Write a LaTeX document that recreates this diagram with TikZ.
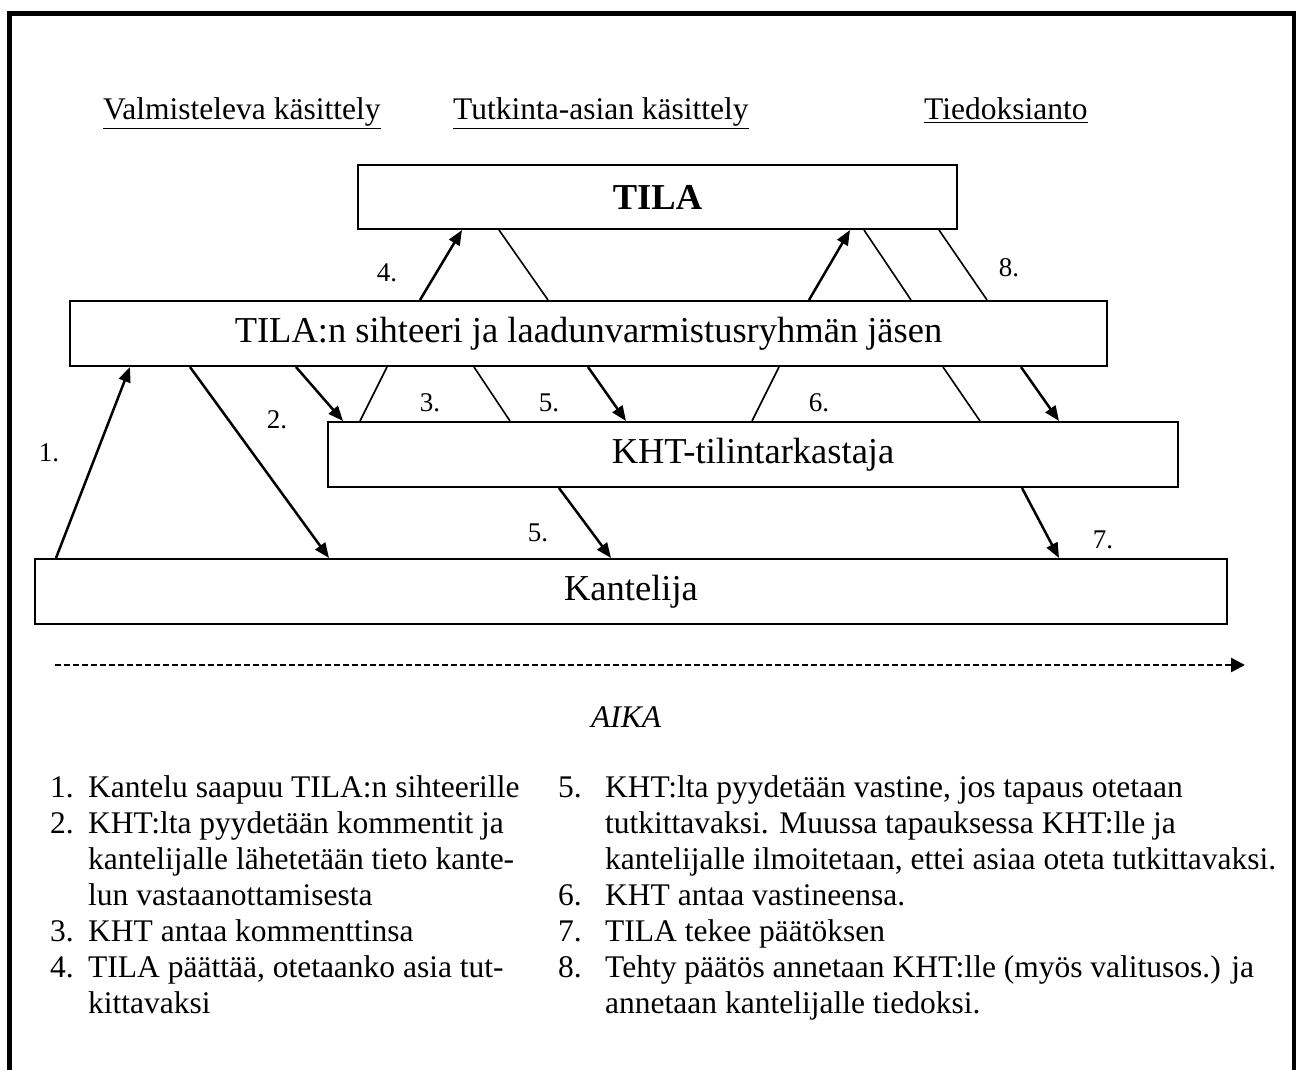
\documentclass[tikz,border=0pt]{standalone}
\usepackage{fontspec}
\setmainfont{Liberation Serif}
\usetikzlibrary{arrows.meta,calc}
\begin{document}
\begin{tikzpicture}[x=1pt,y=-1pt,
  box/.style={draw, line width=2pt, minimum height=64pt, inner sep=0pt, font=\fontsize{36.5}{40}\selectfont},
  lbl/.style={font=\fontsize{27}{30}\selectfont, inner sep=0pt},
  arr/.style={line width=2.5pt, -{Triangle[length=15pt,width=12pt]}},
  ln/.style={line width=1.6pt},
  txt/.style={font=\fontsize{31.5}{36}\selectfont, inner sep=0pt, anchor=base west},
  hdr/.style={font=\fontsize{31.5}{36}\selectfont, inner sep=0pt, anchor=base west}]
\useasboundingbox (0,0) rectangle (1296,1070);
% outer frame
\draw[line width=5pt] (9.5,1110) -- (9.5,13.5) -- (1294,13.5) -- (1294,1110);
% headers
\node[hdr] (h1) at (103,120) {\underline{Valmisteleva käsittely}};
\node[hdr] (h2) at (453,120) {\underline{Tutkinta-asian käsittely}};
\node[hdr] (h3) at (924,120) {\underline{Tiedoksianto}};
% boxes
\node[box, minimum width=599pt] (tila) at (657.5,197) {\textbf{TILA}};
\node[box, minimum width=1037pt, minimum height=65pt] (siht) at (588.5,333.5) {TILA:n sihteeri ja laadunvarmistusryhmän jäsen};
\node[box, minimum width=850pt, minimum height=65pt] (kht) at (753,454.5) {KHT-tilintarkastaja};
\node[box, minimum width=1192pt, minimum height=65pt] (kant) at (631,591.5) {Kantelija};
% connectors
\draw[arr] (56,0 |- kant.north) -- (130,0 |- siht.south);
\draw[arr] (190,0 |- siht.south) -- (329,0 |- kant.north);
\draw[arr] (296,0 |- siht.south) -- (343,0 |- kht.north);
\draw[ln] (360,0 |- kht.north) -- (387,0 |- siht.south);
\draw[ln] (474,0 |- siht.south) -- (510,0 |- kht.north);
\draw[arr] (588,0 |- siht.south) -- (626,0 |- kht.north);
\draw[arr] (559,0 |- kht.south) -- (611,0 |- kant.north);
\draw[ln] (779,0 |- siht.south) -- (752,0 |- kht.north);
\draw[ln] (943,0 |- siht.south) -- (980,0 |- kht.north);
\draw[arr] (1021,0 |- siht.south) -- (1059,0 |- kht.north);
\draw[arr] (1022,0 |- kht.south) -- (1059,0 |- kant.north);
\draw[arr] (420,0 |- siht.north) -- (462,0 |- tila.south);
\draw[ln] (499,0 |- tila.south) -- (548,0 |- siht.north);
\draw[arr] (809,0 |- siht.north) -- (850,0 |- tila.south);
\draw[ln] (864,0 |- tila.south) -- (911,0 |- siht.north);
\draw[ln] (939,0 |- tila.south) -- (987,0 |- siht.north);
% labels
\node[lbl] (l1) at (49,453) {1.};
\node[lbl] (l2) at (277,420) {2.};
\node[lbl] (l3) at (430,403) {3.};
\node[lbl] (l5a) at (549,403) {5.};
\node[lbl] (l6) at (819,403) {6.};
\node[lbl] (l5b) at (538,533) {5.};
\node[lbl] (l7) at (1103,540) {7.};
\node[lbl] (l4) at (387,273) {4.};
\node[lbl] (l8) at (1009,268) {8.};
% time axis
\coordinate (t0) at (55,665);
\coordinate (t1) at (1245,665);
\draw[line width=2.5pt, dash pattern=on 6pt off 3pt, -{Triangle[length=14pt,width=14pt]}] (t0) -- (t1);
\node[font=\fontsize{31.5}{36}\selectfont\itshape, inner sep=0pt] (aika) at (626,717) {AIKA};
% list left
\node[txt] (n1) at (50,797) {1.};
\node[txt] (a1) at (88,797) {Kantelu saapuu TILA:n sihteerille};
\node[txt] (n2) at (50,833) {2.};
\node[txt] (a2) at (88,833) {KHT:lta pyydetään kommentit ja};
\node[txt] (a2b) at (88,869) {kantelijalle lähetetään tieto kante-};
\node[txt] (a2c) at (88,905) {lun vastaanottamisesta};
\node[txt] (n3) at (50,941) {3.};
\node[txt] (a3) at (88,941) {KHT antaa kommenttinsa};
\node[txt] (n4) at (50,977) {4.};
\node[txt] (a4) at (88,977) {TILA päättää, otetaanko asia tut-};
\node[txt] (a4b) at (88,1013) {kittavaksi};
% list right
\node[txt] (n5) at (558,797) {5.};
\node[txt] (b5) at (605,797) {KHT:lta pyydetään vastine, jos tapaus otetaan};
\node[txt] (b5b) at (605,833) {tutkittavaksi. Muussa tapauksessa KHT:lle ja};
\node[txt] (b5c) at (605,869) {kantelijalle ilmoitetaan, ettei asiaa oteta tutkittavaksi.};
\node[txt] (n6) at (558,905) {6.};
\node[txt] (b6) at (605,905) {KHT antaa vastineensa.};
\node[txt] (n7) at (558,941) {7.};
\node[txt] (b7) at (605,941) {TILA tekee päätöksen};
\node[txt] (n8) at (558,977) {8.};
\node[txt] (b8) at (605,977) {Tehty päätös annetaan KHT:lle (myös valitusos.) ja};
\node[txt] (b8b) at (605,1013) {annetaan kantelijalle tiedoksi.};
\end{tikzpicture}
\end{document}
